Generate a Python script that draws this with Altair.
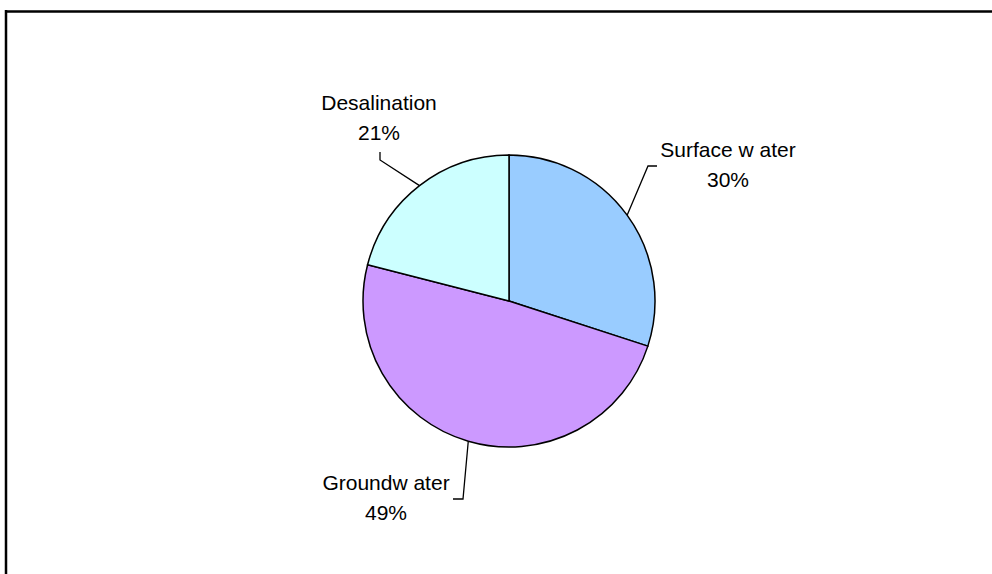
import math
import altair as alt
import pandas as pd

# ---- data ----
categories = ["Surface water", "Groundwater", "Desalination"]
display_names = ["Surface w ater", "Groundw ater", "Desalination"]
shares = [30, 49, 21]
colors = ["#99CCFF", "#CC99FF", "#CCFFFF"]

# ---- layout ----
W, H = 992, 574
CX, CY, R = 509, 301, 146
FONT = "Liberation Sans"
FS = 21
LINE_GAP = 30
label_center = {
    "Surface water": (728, 165.5),
    "Groundwater": (386, 498.5),
    "Desalination": (379, 119),
}
leader_elbows = {
    "Surface water": [(648, 166), (657, 166)],
    "Groundwater": [(463, 499), (453, 499)],
    "Desalination": [(380, 160), (380, 152)],
}

df = pd.DataFrame({"category": categories, "name": display_names,
                   "share": shares, "idx": list(range(len(categories)))})
total = df["share"].sum()
df["start"] = df["share"].cumsum() - df["share"]
df["mid"] = (df["start"] + df["share"] / 2) / total * 2 * math.pi

pie = alt.Chart(df).mark_arc(stroke="black", strokeWidth=1.5, outerRadius=R).encode(
    theta=alt.Theta("share:Q", stack=True),
    order=alt.Order("idx:Q"),
    color=alt.Color("category:N", scale=alt.Scale(domain=categories, range=colors), legend=None),
    x=alt.value(CX),
    y=alt.value(CY),
)

# label rows
rows = []
for _, r in df.iterrows():
    cx, cy = label_center[r["category"]]
    rows.append({"category": r["category"], "text": r["name"], "x": cx, "y": cy - LINE_GAP / 2})
    rows.append({"category": r["category"], "text": f"{r['share']}%", "x": cx, "y": cy + LINE_GAP / 2})
labels_df = pd.DataFrame(rows)

labels = alt.Chart(labels_df).mark_text(
    font=FONT, fontSize=FS, align="center", baseline="middle", color="black"
).encode(
    x=alt.X("x:Q", scale=None, axis=None),
    y=alt.Y("y:Q", scale=None, axis=None),
    text="text:N",
)

# leader lines: start on the pie edge at the slice's mid angle
lrows = []
for _, r in df.iterrows():
    a = r["mid"]
    pts = [(CX + R * math.sin(a), CY - R * math.cos(a))] + leader_elbows[r["category"]]
    for i, (px, py) in enumerate(pts):
        lrows.append({"category": r["category"], "o": i, "x": px, "y": py})
leader_df = pd.DataFrame(lrows)

leaders = alt.Chart(leader_df).mark_line(color="black", strokeWidth=1.3).encode(
    x=alt.X("x:Q", scale=None, axis=None),
    y=alt.Y("y:Q", scale=None, axis=None),
    detail="category:N",
    order="o:Q",
)

one = pd.DataFrame({"a": [0]})
border_top = alt.Chart(one).mark_rule(color="black", strokeWidth=2.5).encode(
    x=alt.value(5), x2=alt.value(W), y=alt.value(11.5)
)
border_left = alt.Chart(one).mark_rule(color="black", strokeWidth=2.5).encode(
    x=alt.value(6), y=alt.value(10), y2=alt.value(H)
)

chart = alt.layer(pie, leaders, labels, border_top, border_left).properties(
    width=W, height=H, padding=0,
    autosize=alt.AutoSizeParams(type="none"),
    background="white",
).configure_view(stroke=None)

chart.save("out.html", embed_options={"renderer": "svg", "actions": False})
